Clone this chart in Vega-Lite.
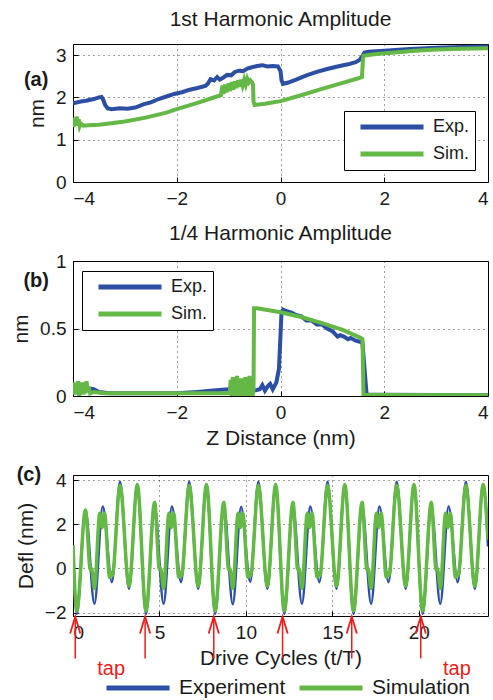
{
"$schema": "https://vega.github.io/schema/vega-lite/v6.json",
"padding": {"left": 10, "top": 8, "right": 5, "bottom": 5},
"spacing": 79,
"bounds": "flush",
"config": {
  "font": "Liberation Sans",
  "view": {"stroke": "#000", "strokeWidth": 1},
  "axis": {"grid": true, "gridColor": "#000", "gridDash": [1, 4], "gridOpacity": 0.75, "domain": false, "tickSize": -5, "tickColor": "#000", "labelPadding": 12, "labelFontSize": 19, "labelColor": "#1a1a1a", "titleFontSize": 21, "titleFontWeight": "normal", "titleColor": "#1a1a1a", "titlePadding": 8},
  "title": {"fontSize": 21, "fontWeight": "normal", "color": "#1a1a1a", "baseline": "alphabetic"}
},
"resolve": {"scale": {"color": "independent"}, "legend": {"color": "independent"}},
"vconcat": [
  {
    "width": 415, "height": 138,
    "title": {"text": "1st Harmonic Amplitude", "offset": 14},
    "encoding": {
      "x": {"field": "z", "type": "quantitative", "scale": {"domain": [-4, 4], "nice": false}, "axis": {"values": [-4, -2, 0, 2, 4], "title": null}},
      "y": {"field": "amp", "type": "quantitative", "scale": {"domain": [0, 3.26], "nice": false}, "axis": {"values": [0, 1, 2, 3], "title": "nm", "format": "~g"}}
    },
    "layer": [
      {
        "data": {"values": [
          {"series": "Exp.", "z": -4.0, "amp": 1.86}, {"series": "Exp.", "z": -3.85, "amp": 1.9}, {"series": "Exp.", "z": -3.75, "amp": 1.92}, {"series": "Exp.", "z": -3.6, "amp": 1.96}, {"series": "Exp.", "z": -3.5, "amp": 2.0}, {"series": "Exp.", "z": -3.45, "amp": 2.01}, {"series": "Exp.", "z": -3.42, "amp": 1.95}, {"series": "Exp.", "z": -3.38, "amp": 1.82}, {"series": "Exp.", "z": -3.33, "amp": 1.74}, {"series": "Exp.", "z": -3.25, "amp": 1.72}, {"series": "Exp.", "z": -3.1, "amp": 1.74}, {"series": "Exp.", "z": -2.95, "amp": 1.73}, {"series": "Exp.", "z": -2.8, "amp": 1.76}, {"series": "Exp.", "z": -2.63, "amp": 1.84}, {"series": "Exp.", "z": -2.5, "amp": 1.88}, {"series": "Exp.", "z": -2.35, "amp": 1.96}, {"series": "Exp.", "z": -2.2, "amp": 2.02}, {"series": "Exp.", "z": -2.05, "amp": 2.08}, {"series": "Exp.", "z": -1.9, "amp": 2.12}, {"series": "Exp.", "z": -1.75, "amp": 2.18}, {"series": "Exp.", "z": -1.6, "amp": 2.22}, {"series": "Exp.", "z": -1.45, "amp": 2.27}, {"series": "Exp.", "z": -1.4, "amp": 2.32}, {"series": "Exp.", "z": -1.35, "amp": 2.43}, {"series": "Exp.", "z": -1.28, "amp": 2.4}, {"series": "Exp.", "z": -1.22, "amp": 2.48}, {"series": "Exp.", "z": -1.17, "amp": 2.42}, {"series": "Exp.", "z": -1.1, "amp": 2.47}, {"series": "Exp.", "z": -1.03, "amp": 2.53}, {"series": "Exp.", "z": -0.95, "amp": 2.52}, {"series": "Exp.", "z": -0.88, "amp": 2.6}, {"series": "Exp.", "z": -0.8, "amp": 2.63}, {"series": "Exp.", "z": -0.72, "amp": 2.62}, {"series": "Exp.", "z": -0.64, "amp": 2.68}, {"series": "Exp.", "z": -0.55, "amp": 2.71}, {"series": "Exp.", "z": -0.45, "amp": 2.74}, {"series": "Exp.", "z": -0.35, "amp": 2.76}, {"series": "Exp.", "z": -0.25, "amp": 2.73}, {"series": "Exp.", "z": -0.15, "amp": 2.74}, {"series": "Exp.", "z": -0.05, "amp": 2.73}, {"series": "Exp.", "z": 0.0, "amp": 2.62}, {"series": "Exp.", "z": 0.02, "amp": 2.4}, {"series": "Exp.", "z": 0.05, "amp": 2.32}, {"series": "Exp.", "z": 0.15, "amp": 2.35}, {"series": "Exp.", "z": 0.3, "amp": 2.42}, {"series": "Exp.", "z": 0.5, "amp": 2.52}, {"series": "Exp.", "z": 0.7, "amp": 2.6}, {"series": "Exp.", "z": 0.9, "amp": 2.67}, {"series": "Exp.", "z": 1.1, "amp": 2.73}, {"series": "Exp.", "z": 1.3, "amp": 2.78}, {"series": "Exp.", "z": 1.45, "amp": 2.83}, {"series": "Exp.", "z": 1.52, "amp": 2.88}, {"series": "Exp.", "z": 1.58, "amp": 2.98}, {"series": "Exp.", "z": 1.62, "amp": 3.06}, {"series": "Exp.", "z": 1.7, "amp": 3.08}, {"series": "Exp.", "z": 2.0, "amp": 3.1}, {"series": "Exp.", "z": 2.5, "amp": 3.14}, {"series": "Exp.", "z": 3.0, "amp": 3.17}, {"series": "Exp.", "z": 3.5, "amp": 3.19}, {"series": "Exp.", "z": 4.0, "amp": 3.2},
          {"series": "Sim.", "z": -4.0, "amp": 1.45}, {"series": "Sim.", "z": -3.99, "amp": 1.3}, {"series": "Sim.", "z": -3.97, "amp": 1.52}, {"series": "Sim.", "z": -3.95, "amp": 1.33}, {"series": "Sim.", "z": -3.93, "amp": 1.55}, {"series": "Sim.", "z": -3.91, "amp": 1.35}, {"series": "Sim.", "z": -3.89, "amp": 1.48}, {"series": "Sim.", "z": -3.87, "amp": 1.32}, {"series": "Sim.", "z": -3.85, "amp": 1.38}, {"series": "Sim.", "z": -3.8, "amp": 1.33}, {"series": "Sim.", "z": -3.7, "amp": 1.34}, {"series": "Sim.", "z": -3.5, "amp": 1.35}, {"series": "Sim.", "z": -3.3, "amp": 1.38}, {"series": "Sim.", "z": -3.0, "amp": 1.43}, {"series": "Sim.", "z": -2.6, "amp": 1.52}, {"series": "Sim.", "z": -2.2, "amp": 1.64}, {"series": "Sim.", "z": -2.0, "amp": 1.72}, {"series": "Sim.", "z": -1.6, "amp": 1.87}, {"series": "Sim.", "z": -1.3, "amp": 1.99}, {"series": "Sim.", "z": -1.15, "amp": 2.05}, {"series": "Sim.", "z": -1.12, "amp": 2.28}, {"series": "Sim.", "z": -1.1, "amp": 2.08}, {"series": "Sim.", "z": -1.07, "amp": 2.3}, {"series": "Sim.", "z": -1.04, "amp": 2.12}, {"series": "Sim.", "z": -1.0, "amp": 2.33}, {"series": "Sim.", "z": -0.97, "amp": 2.15}, {"series": "Sim.", "z": -0.94, "amp": 2.36}, {"series": "Sim.", "z": -0.91, "amp": 2.18}, {"series": "Sim.", "z": -0.88, "amp": 2.38}, {"series": "Sim.", "z": -0.85, "amp": 2.22}, {"series": "Sim.", "z": -0.82, "amp": 2.4}, {"series": "Sim.", "z": -0.79, "amp": 2.25}, {"series": "Sim.", "z": -0.76, "amp": 2.42}, {"series": "Sim.", "z": -0.73, "amp": 2.28}, {"series": "Sim.", "z": -0.7, "amp": 2.42}, {"series": "Sim.", "z": -0.67, "amp": 2.3}, {"series": "Sim.", "z": -0.64, "amp": 2.44}, {"series": "Sim.", "z": -0.61, "amp": 2.35}, {"series": "Sim.", "z": -0.58, "amp": 2.4}, {"series": "Sim.", "z": -0.55, "amp": 2.36}, {"series": "Sim.", "z": -0.53, "amp": 2.3}, {"series": "Sim.", "z": -0.52, "amp": 1.9}, {"series": "Sim.", "z": -0.5, "amp": 1.82}, {"series": "Sim.", "z": -0.3, "amp": 1.85}, {"series": "Sim.", "z": 0.0, "amp": 1.91}, {"series": "Sim.", "z": 0.4, "amp": 2.05}, {"series": "Sim.", "z": 0.8, "amp": 2.2}, {"series": "Sim.", "z": 1.2, "amp": 2.34}, {"series": "Sim.", "z": 1.5, "amp": 2.45}, {"series": "Sim.", "z": 1.57, "amp": 2.48}, {"series": "Sim.", "z": 1.59, "amp": 2.9}, {"series": "Sim.", "z": 1.6, "amp": 2.98}, {"series": "Sim.", "z": 1.8, "amp": 3.02}, {"series": "Sim.", "z": 2.2, "amp": 3.06}, {"series": "Sim.", "z": 2.6, "amp": 3.1}, {"series": "Sim.", "z": 3.0, "amp": 3.13}, {"series": "Sim.", "z": 3.5, "amp": 3.15}, {"series": "Sim.", "z": 4.0, "amp": 3.16}
        ]},
        "mark": {"type": "line", "strokeWidth": 4, "clip": true},
        "encoding": {
          "color": {"field": "series", "type": "nominal", "scale": {"domain": ["Exp.", "Sim."], "range": ["#2C4FA3", "#64B946"]},
            "legend": {"orient": "none", "legendX": 271, "legendY": 67, "title": null, "symbolType": "stroke", "symbolSize": 3969, "symbolStrokeWidth": 5, "clipHeight": 22, "rowPadding": 5, "padding": 5, "symbolOffset": 9, "labelOffset": 7, "labelFontSize": 18, "labelColor": "#1a1a1a", "strokeColor": "#000", "fillColor": "#fff", "labelExpr": "datum.label + '      '"}}
        }
      },
      {
        "data": {"values": [{"label": "(a)", "z": -4.71, "amp": 2.42}]},
        "mark": {"type": "text", "fontWeight": "bold", "fontSize": 20, "clip": false, "baseline": "middle", "align": "center", "color": "#1a1a1a"},
        "encoding": {"text": {"field": "label"}}
      }
    ]
  },
  {
    "width": 415, "height": 135,
    "title": {"text": "1/4 Harmonic Amplitude", "offset": 8},
    "encoding": {
      "x": {"field": "z", "type": "quantitative", "scale": {"domain": [-4, 4], "nice": false}, "axis": {"values": [-4, -2, 0, 2, 4], "title": "Z Distance (nm)", "titlePadding": 5}},
      "y": {"field": "amp", "type": "quantitative", "scale": {"domain": [0, 1], "nice": false}, "axis": {"values": [0, 0.5, 1], "title": "nm", "format": "~g"}}
    },
    "layer": [
      {
        "data": {"values": [
          {"series": "Exp.", "z": -4.0, "amp": 0.06}, {"series": "Exp.", "z": -3.8, "amp": 0.06}, {"series": "Exp.", "z": -3.6, "amp": 0.05}, {"series": "Exp.", "z": -3.5, "amp": 0.03}, {"series": "Exp.", "z": -3.3, "amp": 0.02}, {"series": "Exp.", "z": -2.5, "amp": 0.02}, {"series": "Exp.", "z": -2.0, "amp": 0.02}, {"series": "Exp.", "z": -1.6, "amp": 0.03}, {"series": "Exp.", "z": -1.3, "amp": 0.04}, {"series": "Exp.", "z": -1.0, "amp": 0.05}, {"series": "Exp.", "z": -0.8, "amp": 0.04}, {"series": "Exp.", "z": -0.6, "amp": 0.02}, {"series": "Exp.", "z": -0.5, "amp": 0.04}, {"series": "Exp.", "z": -0.4, "amp": 0.05}, {"series": "Exp.", "z": -0.35, "amp": 0.08}, {"series": "Exp.", "z": -0.3, "amp": 0.04}, {"series": "Exp.", "z": -0.25, "amp": 0.07}, {"series": "Exp.", "z": -0.2, "amp": 0.09}, {"series": "Exp.", "z": -0.15, "amp": 0.05}, {"series": "Exp.", "z": -0.08, "amp": 0.1}, {"series": "Exp.", "z": -0.03, "amp": 0.2}, {"series": "Exp.", "z": 0.0, "amp": 0.45}, {"series": "Exp.", "z": 0.02, "amp": 0.62}, {"series": "Exp.", "z": 0.05, "amp": 0.64}, {"series": "Exp.", "z": 0.1, "amp": 0.63}, {"series": "Exp.", "z": 0.2, "amp": 0.62}, {"series": "Exp.", "z": 0.3, "amp": 0.6}, {"series": "Exp.", "z": 0.4, "amp": 0.59}, {"series": "Exp.", "z": 0.5, "amp": 0.56}, {"series": "Exp.", "z": 0.6, "amp": 0.56}, {"series": "Exp.", "z": 0.7, "amp": 0.53}, {"series": "Exp.", "z": 0.8, "amp": 0.53}, {"series": "Exp.", "z": 0.9, "amp": 0.5}, {"series": "Exp.", "z": 1.0, "amp": 0.48}, {"series": "Exp.", "z": 1.05, "amp": 0.46}, {"series": "Exp.", "z": 1.1, "amp": 0.44}, {"series": "Exp.", "z": 1.15, "amp": 0.45}, {"series": "Exp.", "z": 1.22, "amp": 0.44}, {"series": "Exp.", "z": 1.3, "amp": 0.42}, {"series": "Exp.", "z": 1.35, "amp": 0.43}, {"series": "Exp.", "z": 1.45, "amp": 0.41}, {"series": "Exp.", "z": 1.55, "amp": 0.4}, {"series": "Exp.", "z": 1.58, "amp": 0.39}, {"series": "Exp.", "z": 1.62, "amp": 0.2}, {"series": "Exp.", "z": 1.66, "amp": 0.01}, {"series": "Exp.", "z": 2.0, "amp": 0.01}, {"series": "Exp.", "z": 4.0, "amp": 0.005},
          {"series": "Sim.", "z": -4.0, "amp": 0.02}, {"series": "Sim.", "z": -3.98, "amp": 0.1}, {"series": "Sim.", "z": -3.96, "amp": 0.01}, {"series": "Sim.", "z": -3.94, "amp": 0.09}, {"series": "Sim.", "z": -3.92, "amp": 0.02}, {"series": "Sim.", "z": -3.9, "amp": 0.11}, {"series": "Sim.", "z": -3.88, "amp": 0.0}, {"series": "Sim.", "z": -3.86, "amp": 0.08}, {"series": "Sim.", "z": -3.84, "amp": 0.02}, {"series": "Sim.", "z": -3.82, "amp": 0.1}, {"series": "Sim.", "z": -3.8, "amp": 0.01}, {"series": "Sim.", "z": -3.78, "amp": 0.09}, {"series": "Sim.", "z": -3.76, "amp": 0.02}, {"series": "Sim.", "z": -3.74, "amp": 0.11}, {"series": "Sim.", "z": -3.72, "amp": 0.03}, {"series": "Sim.", "z": -3.7, "amp": 0.07}, {"series": "Sim.", "z": -3.67, "amp": 0.02}, {"series": "Sim.", "z": -3.6, "amp": 0.03}, {"series": "Sim.", "z": -3.4, "amp": 0.02}, {"series": "Sim.", "z": -3.0, "amp": 0.02}, {"series": "Sim.", "z": -2.0, "amp": 0.02}, {"series": "Sim.", "z": -1.2, "amp": 0.02}, {"series": "Sim.", "z": -0.98, "amp": 0.02}, {"series": "Sim.", "z": -0.96, "amp": 0.12}, {"series": "Sim.", "z": -0.94, "amp": 0.0}, {"series": "Sim.", "z": -0.92, "amp": 0.14}, {"series": "Sim.", "z": -0.9, "amp": 0.01}, {"series": "Sim.", "z": -0.88, "amp": 0.1}, {"series": "Sim.", "z": -0.86, "amp": 0.0}, {"series": "Sim.", "z": -0.84, "amp": 0.15}, {"series": "Sim.", "z": -0.82, "amp": 0.02}, {"series": "Sim.", "z": -0.8, "amp": 0.12}, {"series": "Sim.", "z": -0.78, "amp": 0.0}, {"series": "Sim.", "z": -0.76, "amp": 0.13}, {"series": "Sim.", "z": -0.74, "amp": 0.01}, {"series": "Sim.", "z": -0.72, "amp": 0.1}, {"series": "Sim.", "z": -0.7, "amp": 0.0}, {"series": "Sim.", "z": -0.68, "amp": 0.14}, {"series": "Sim.", "z": -0.66, "amp": 0.02}, {"series": "Sim.", "z": -0.64, "amp": 0.12}, {"series": "Sim.", "z": -0.62, "amp": 0.0}, {"series": "Sim.", "z": -0.6, "amp": 0.15}, {"series": "Sim.", "z": -0.58, "amp": 0.01}, {"series": "Sim.", "z": -0.56, "amp": 0.13}, {"series": "Sim.", "z": -0.54, "amp": 0.0}, {"series": "Sim.", "z": -0.52, "amp": 0.05}, {"series": "Sim.", "z": -0.51, "amp": 0.65}, {"series": "Sim.", "z": -0.45, "amp": 0.65}, {"series": "Sim.", "z": 0.0, "amp": 0.62}, {"series": "Sim.", "z": 0.4, "amp": 0.585}, {"series": "Sim.", "z": 0.8, "amp": 0.54}, {"series": "Sim.", "z": 1.2, "amp": 0.49}, {"series": "Sim.", "z": 1.55, "amp": 0.43}, {"series": "Sim.", "z": 1.58, "amp": 0.42}, {"series": "Sim.", "z": 1.6, "amp": 0.01}, {"series": "Sim.", "z": 2.0, "amp": 0.008}, {"series": "Sim.", "z": 4.0, "amp": 0.005}
        ]},
        "mark": {"type": "line", "strokeWidth": 4, "clip": true},
        "encoding": {
          "color": {"field": "series", "type": "nominal", "scale": {"domain": ["Exp.", "Sim."], "range": ["#2C4FA3", "#64B946"]},
            "legend": {"orient": "none", "legendX": 9, "legendY": 10, "title": null, "symbolType": "stroke", "symbolSize": 3969, "symbolStrokeWidth": 5, "clipHeight": 22, "rowPadding": 5, "padding": 5, "symbolOffset": 9, "labelOffset": 7, "labelFontSize": 18, "labelColor": "#1a1a1a", "strokeColor": "#000", "fillColor": "#fff", "labelExpr": "datum.label + '  '"}}
        }
      },
      {
        "data": {"values": [{"label": "(b)", "z": -4.71, "amp": 0.85}]},
        "mark": {"type": "text", "fontWeight": "bold", "fontSize": 20, "clip": false, "baseline": "middle", "align": "center", "color": "#1a1a1a"},
        "encoding": {"text": {"field": "label"}}
      }
    ]
  },
  {
    "width": 415, "height": 141,
    "encoding": {
      "x": {"field": "t", "type": "quantitative", "scale": {"domain": [0, 24], "nice": false}, "axis": {"values": [0, 5, 10, 15, 20], "title": "Drive Cycles (t/T)", "titleFontSize": 21, "titlePadding": 5}},
      "y": {"field": "defl", "type": "quantitative", "scale": {"domain": [-2.15, 4.23], "nice": false}, "axis": {"values": [-2, 0, 2, 4], "title": "Defl (nm)", "format": "~g"}}
    },
    "layer": [
      {
        "data": {"values": [
          {"series": "Experiment", "t": 0, "defl": 0.95}, {"series": "Experiment", "t": 0.22, "defl": -2.05}, {"series": "Experiment", "t": 0.72, "defl": 2.65}, {"series": "Experiment", "t": 1.24, "defl": -1.6}, {"series": "Experiment", "t": 1.72, "defl": 2.8}, {"series": "Experiment", "t": 2.25, "defl": -0.62}, {"series": "Experiment", "t": 2.72, "defl": 3.92}, {"series": "Experiment", "t": 3.24, "defl": -0.92}, {"series": "Experiment", "t": 3.72, "defl": 3.8},
          {"series": "Experiment", "t": 4.22, "defl": -2.05}, {"series": "Experiment", "t": 4.72, "defl": 2.8}, {"series": "Experiment", "t": 5.24, "defl": -1.6}, {"series": "Experiment", "t": 5.72, "defl": 2.8}, {"series": "Experiment", "t": 6.25, "defl": -0.62}, {"series": "Experiment", "t": 6.72, "defl": 3.92}, {"series": "Experiment", "t": 7.24, "defl": -0.92}, {"series": "Experiment", "t": 7.72, "defl": 3.8},
          {"series": "Experiment", "t": 8.22, "defl": -2.05}, {"series": "Experiment", "t": 8.72, "defl": 2.85}, {"series": "Experiment", "t": 9.24, "defl": -1.62}, {"series": "Experiment", "t": 9.72, "defl": 2.78}, {"series": "Experiment", "t": 10.25, "defl": -0.6}, {"series": "Experiment", "t": 10.72, "defl": 3.92}, {"series": "Experiment", "t": 11.24, "defl": -0.92}, {"series": "Experiment", "t": 11.72, "defl": 3.8},
          {"series": "Experiment", "t": 12.22, "defl": -2.05}, {"series": "Experiment", "t": 12.72, "defl": 2.8}, {"series": "Experiment", "t": 13.24, "defl": -1.6}, {"series": "Experiment", "t": 13.72, "defl": 2.8}, {"series": "Experiment", "t": 14.25, "defl": -0.62}, {"series": "Experiment", "t": 14.72, "defl": 3.92}, {"series": "Experiment", "t": 15.24, "defl": -0.92}, {"series": "Experiment", "t": 15.72, "defl": 3.8},
          {"series": "Experiment", "t": 16.22, "defl": -2.05}, {"series": "Experiment", "t": 16.72, "defl": 2.8}, {"series": "Experiment", "t": 17.24, "defl": -1.6}, {"series": "Experiment", "t": 17.72, "defl": 2.8}, {"series": "Experiment", "t": 18.25, "defl": -0.62}, {"series": "Experiment", "t": 18.72, "defl": 3.92}, {"series": "Experiment", "t": 19.24, "defl": -0.92}, {"series": "Experiment", "t": 19.72, "defl": 3.8},
          {"series": "Experiment", "t": 20.22, "defl": -2.05}, {"series": "Experiment", "t": 20.72, "defl": 2.8}, {"series": "Experiment", "t": 21.24, "defl": -1.6}, {"series": "Experiment", "t": 21.72, "defl": 2.8}, {"series": "Experiment", "t": 22.25, "defl": -0.62}, {"series": "Experiment", "t": 22.72, "defl": 3.92}, {"series": "Experiment", "t": 23.24, "defl": -0.92}, {"series": "Experiment", "t": 23.72, "defl": 3.8}, {"series": "Experiment", "t": 24, "defl": 1.0}
        ]},
        "mark": {"type": "line", "strokeWidth": 2.5, "interpolate": "monotone", "clip": true},
        "encoding": {
          "color": {"field": "series", "type": "nominal", "scale": {"domain": ["Experiment", "Simulation"], "range": ["#2C4FA3", "#64B946"]},
            "legend": {"orient": "none", "direction": "horizontal", "legendX": 31, "legendY": 203, "title": null, "symbolType": "stroke", "symbolSize": 3969, "symbolStrokeWidth": 5, "clipHeight": 20, "padding": 0, "symbolOffset": 0, "labelOffset": 7, "columnPadding": 11, "labelFontSize": 21, "labelColor": "#1a1a1a"}}
        }
      },
      {
        "data": {"values": [
          {"series": "Simulation", "t": 0, "defl": 1.05}, {"series": "Simulation", "t": 0.22, "defl": -1.92}, {"series": "Simulation", "t": 0.72, "defl": 2.65}, {"series": "Simulation", "t": 1.0, "defl": -0.05}, {"series": "Simulation", "t": 1.07, "defl": 0.0}, {"series": "Simulation", "t": 1.24, "defl": -0.9}, {"series": "Simulation", "t": 1.55, "defl": 2.5}, {"series": "Simulation", "t": 1.68, "defl": 1.85}, {"series": "Simulation", "t": 1.82, "defl": 2.5}, {"series": "Simulation", "t": 2.12, "defl": -0.4}, {"series": "Simulation", "t": 2.2, "defl": -0.18}, {"series": "Simulation", "t": 2.27, "defl": -0.32}, {"series": "Simulation", "t": 2.72, "defl": 3.75}, {"series": "Simulation", "t": 3.24, "defl": -0.8}, {"series": "Simulation", "t": 3.72, "defl": 3.8},
          {"series": "Simulation", "t": 4.22, "defl": -1.92}, {"series": "Simulation", "t": 4.72, "defl": 3.0}, {"series": "Simulation", "t": 5.0, "defl": -0.05}, {"series": "Simulation", "t": 5.07, "defl": 0.0}, {"series": "Simulation", "t": 5.24, "defl": -0.9}, {"series": "Simulation", "t": 5.55, "defl": 2.5}, {"series": "Simulation", "t": 5.68, "defl": 1.85}, {"series": "Simulation", "t": 5.82, "defl": 2.5}, {"series": "Simulation", "t": 6.12, "defl": -0.4}, {"series": "Simulation", "t": 6.2, "defl": -0.18}, {"series": "Simulation", "t": 6.27, "defl": -0.32}, {"series": "Simulation", "t": 6.72, "defl": 3.75}, {"series": "Simulation", "t": 7.24, "defl": -0.8}, {"series": "Simulation", "t": 7.72, "defl": 3.8},
          {"series": "Simulation", "t": 8.22, "defl": -1.92}, {"series": "Simulation", "t": 8.72, "defl": 3.0}, {"series": "Simulation", "t": 9.0, "defl": -0.05}, {"series": "Simulation", "t": 9.07, "defl": 0.0}, {"series": "Simulation", "t": 9.24, "defl": -0.9}, {"series": "Simulation", "t": 9.55, "defl": 2.5}, {"series": "Simulation", "t": 9.68, "defl": 1.85}, {"series": "Simulation", "t": 9.82, "defl": 2.5}, {"series": "Simulation", "t": 10.12, "defl": -0.4}, {"series": "Simulation", "t": 10.2, "defl": -0.18}, {"series": "Simulation", "t": 10.27, "defl": -0.32}, {"series": "Simulation", "t": 10.72, "defl": 3.75}, {"series": "Simulation", "t": 11.24, "defl": -0.8}, {"series": "Simulation", "t": 11.72, "defl": 3.8},
          {"series": "Simulation", "t": 12.22, "defl": -1.92}, {"series": "Simulation", "t": 12.72, "defl": 3.0}, {"series": "Simulation", "t": 13.0, "defl": -0.05}, {"series": "Simulation", "t": 13.07, "defl": 0.0}, {"series": "Simulation", "t": 13.24, "defl": -0.9}, {"series": "Simulation", "t": 13.55, "defl": 2.5}, {"series": "Simulation", "t": 13.68, "defl": 1.85}, {"series": "Simulation", "t": 13.82, "defl": 2.5}, {"series": "Simulation", "t": 14.12, "defl": -0.4}, {"series": "Simulation", "t": 14.2, "defl": -0.18}, {"series": "Simulation", "t": 14.27, "defl": -0.32}, {"series": "Simulation", "t": 14.72, "defl": 3.75}, {"series": "Simulation", "t": 15.24, "defl": -0.8}, {"series": "Simulation", "t": 15.72, "defl": 3.8},
          {"series": "Simulation", "t": 16.22, "defl": -1.92}, {"series": "Simulation", "t": 16.72, "defl": 3.0}, {"series": "Simulation", "t": 17.0, "defl": -0.05}, {"series": "Simulation", "t": 17.07, "defl": 0.0}, {"series": "Simulation", "t": 17.24, "defl": -0.9}, {"series": "Simulation", "t": 17.55, "defl": 2.5}, {"series": "Simulation", "t": 17.68, "defl": 1.85}, {"series": "Simulation", "t": 17.82, "defl": 2.5}, {"series": "Simulation", "t": 18.12, "defl": -0.4}, {"series": "Simulation", "t": 18.2, "defl": -0.18}, {"series": "Simulation", "t": 18.27, "defl": -0.32}, {"series": "Simulation", "t": 18.72, "defl": 3.75}, {"series": "Simulation", "t": 19.24, "defl": -0.8}, {"series": "Simulation", "t": 19.72, "defl": 3.8},
          {"series": "Simulation", "t": 20.22, "defl": -1.92}, {"series": "Simulation", "t": 20.72, "defl": 3.0}, {"series": "Simulation", "t": 21.0, "defl": -0.05}, {"series": "Simulation", "t": 21.07, "defl": 0.0}, {"series": "Simulation", "t": 21.24, "defl": -0.9}, {"series": "Simulation", "t": 21.55, "defl": 2.5}, {"series": "Simulation", "t": 21.68, "defl": 1.85}, {"series": "Simulation", "t": 21.82, "defl": 2.5}, {"series": "Simulation", "t": 22.12, "defl": -0.4}, {"series": "Simulation", "t": 22.2, "defl": -0.18}, {"series": "Simulation", "t": 22.27, "defl": -0.32}, {"series": "Simulation", "t": 22.72, "defl": 3.75}, {"series": "Simulation", "t": 23.24, "defl": -0.8}, {"series": "Simulation", "t": 23.72, "defl": 3.8}, {"series": "Simulation", "t": 24, "defl": 1.3}
        ]},
        "mark": {"type": "line", "strokeWidth": 3.5, "interpolate": "monotone", "clip": true},
        "encoding": {
          "color": {"field": "series", "type": "nominal", "scale": {"domain": ["Experiment", "Simulation"], "range": ["#2C4FA3", "#64B946"]}}
        }
      },
      {
        "data": {"values": [
          {"t": 0.13, "defl": -4.07, "defl2": -2.25}, {"t": 4.17, "defl": -4.07, "defl2": -2.25}, {"t": 8.14, "defl": -4.07, "defl2": -2.25}, {"t": 12.12, "defl": -4.07, "defl2": -2.25}, {"t": 16.12, "defl": -4.07, "defl2": -2.25}, {"t": 20.11, "defl": -4.07, "defl2": -2.25}
        ]},
        "mark": {"type": "rule", "color": "#EE1C1C", "strokeWidth": 1.5, "clip": false},
        "encoding": {"y2": {"field": "defl2"}}
      },
      {
        "data": {"values": [
          {"t": 0.13, "defl": -2.56}, {"t": 4.17, "defl": -2.56}, {"t": 8.14, "defl": -2.56}, {"t": 12.12, "defl": -2.56}, {"t": 16.12, "defl": -2.56}, {"t": 20.11, "defl": -2.56}
        ]},
        "mark": {"type": "point", "shape": "M-0.6,1L0,-1L0.6,1", "filled": false, "size": 289, "strokeWidth": 1.8, "color": "#EE1C1C", "opacity": 1, "clip": false}
      },
      {
        "data": {"values": [{"label": "tap", "t": 2.21, "defl": -4.55}, {"label": "tap", "t": 22.2, "defl": -4.55}]},
        "mark": {"type": "text", "fontSize": 20, "color": "#EE1C1C", "clip": false, "baseline": "middle", "align": "center"},
        "encoding": {"text": {"field": "label"}}
      },
      {
        "data": {"values": [{"label": "(c)", "t": -2.55, "defl": 4.23}]},
        "mark": {"type": "text", "fontWeight": "bold", "fontSize": 20, "clip": false, "baseline": "middle", "align": "center", "color": "#1a1a1a"},
        "encoding": {"text": {"field": "label"}}
      }
    ]
  }
]
}
